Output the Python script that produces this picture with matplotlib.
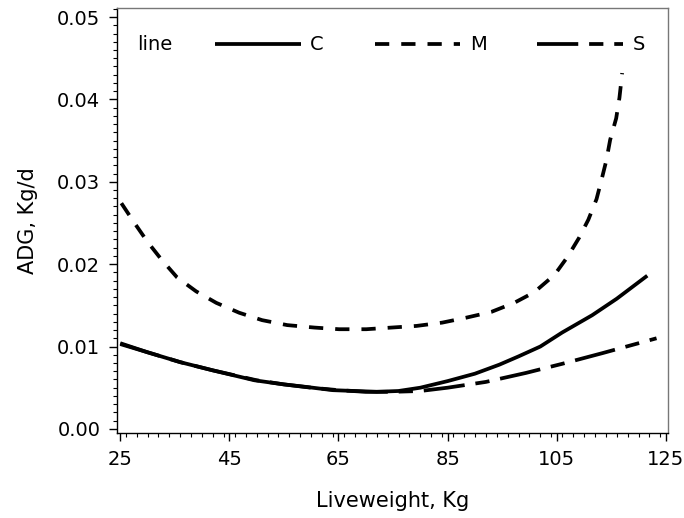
import numpy as np
import matplotlib
matplotlib.use("Agg")
import matplotlib.pyplot as plt
from matplotlib.ticker import MultipleLocator, FormatStrFormatter

# ---- data ----
c_x = [25, 30, 36, 42, 49.6, 55, 59, 64, 68, 72, 76, 80, 85, 90, 94.5, 98, 102, 106, 111.5, 116, 121.6]
c_y = [0.0104, 0.0093, 0.0081, 0.0071, 0.0059, 0.0054, 0.0051, 0.0047, 0.0046, 0.0045, 0.0046,
       0.0050, 0.0058, 0.0067, 0.0078, 0.0088, 0.0100, 0.0117, 0.0138, 0.0158, 0.0186]

m_x = [25.2, 27.6, 30, 32.5, 35.4, 38.9, 42.6, 46.8, 51, 55.6, 60.6, 65.1, 70.1, 74.7, 79.3, 84,
       88.4, 93, 97.2, 100.9, 104.6, 107, 109.1, 110.8, 112.3, 113.2, 114.1, 114.8, 115.9, 116.5, 117]
m_y = [0.0274, 0.0250, 0.0227, 0.0206, 0.0184, 0.0167, 0.0153, 0.0141, 0.0132, 0.0126, 0.0123,
       0.0121, 0.0121, 0.0123, 0.0125, 0.0129, 0.0135, 0.0142, 0.0153, 0.0166, 0.0187, 0.0209,
       0.0232, 0.0254, 0.0279, 0.0302, 0.0326, 0.0351, 0.0377, 0.0402, 0.0432]

s_x = [25, 30, 36, 42, 50, 55, 60, 65, 70, 75, 80, 85, 92, 99.4, 106, 113.4, 123.3]
s_y = [0.0103, 0.0093, 0.0081, 0.0071, 0.0059, 0.0054, 0.0050, 0.0047, 0.0045, 0.0045, 0.0046,
       0.0050, 0.0057, 0.0068, 0.0079, 0.0092, 0.0110]

series_labels = ["C", "M", "S"]
legend_title = "line"
x_ticks = [25, 45, 65, 85, 105, 125]
y_ticks = [0.00, 0.01, 0.02, 0.03, 0.04, 0.05]

plt.rcParams['font.family'] = ['DejaVu Sans']
FS = 14

fig = plt.figure(figsize=(6.84, 5.18), dpi=100)
ax = fig.add_axes([117/684, 1 - 433/518, (668 - 117)/684, (433 - 8)/518])

lw = 2.7
ax.plot(c_x, c_y, color='black', lw=lw, solid_capstyle='butt', label=series_labels[0])
ax.plot(m_x, m_y, color='black', lw=lw, dashes=(3.8, 3.2), dash_capstyle='butt', label=series_labels[1])
ax.plot(s_x, s_y, color='black', lw=lw, dashes=(11, 2.9, 3.8, 2.9), dash_capstyle='butt', label=series_labels[2])

ax.set_xlim(24.4, 125.4)
ax.set_ylim(-0.0005, 0.0511)
ax.set_xticks(x_ticks)
ax.set_yticks(y_ticks)
ax.yaxis.set_major_formatter(FormatStrFormatter('%.2f'))
ax.xaxis.set_minor_locator(MultipleLocator(2))
ax.yaxis.set_minor_locator(MultipleLocator(0.001))
ax.tick_params(which='major', length=6, width=1, labelsize=FS, direction='out', pad=6)
ax.tick_params(which='minor', length=3, width=0.8, direction='out')

for side in ['left', 'bottom']:
    ax.spines[side].set_color('black')
    ax.spines[side].set_linewidth(1)
for side in ['top', 'right']:
    ax.spines[side].set_color('#777777')
    ax.spines[side].set_linewidth(1)

ax.set_xlabel("Liveweight, Kg", fontsize=FS + 1, labelpad=16)
ax.set_ylabel("ADG, Kg/d", fontsize=FS + 1, labelpad=14)

ax.text(0.036, 0.913, legend_title, transform=ax.transAxes, fontsize=FS, va='center', ha='left')
leg = ax.legend(loc='center left', bbox_to_anchor=(0.178, 0.913), ncol=3, frameon=False,
                fontsize=FS, handlelength=4.4, handletextpad=0.5, columnspacing=2.6,
                borderpad=0, borderaxespad=0)

fig.savefig("out.png", dpi=100)
